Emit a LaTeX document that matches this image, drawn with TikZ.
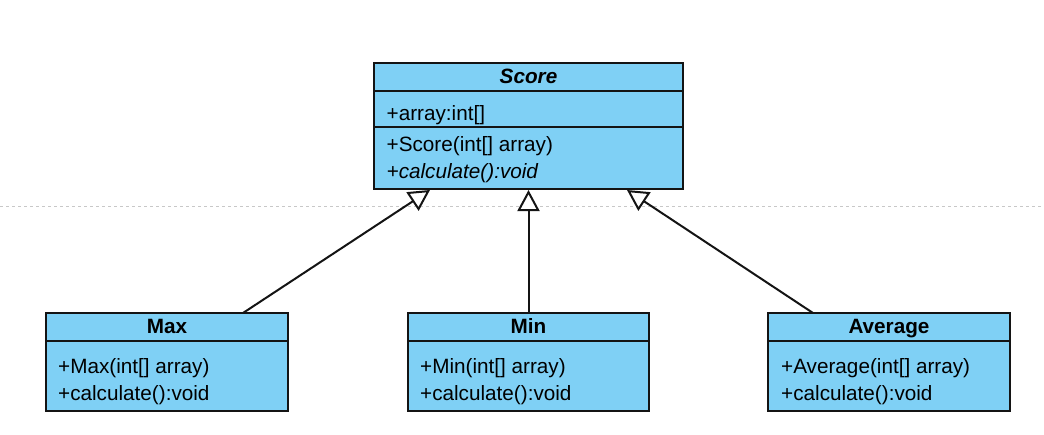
\documentclass[tikz,border=0pt]{standalone}
\usepackage{fontspec}
\setmainfont{Liberation Sans}
\usetikzlibrary{arrows.meta}
\definecolor{umlblue}{RGB}{127,208,245}
\definecolor{linec}{RGB}{20,20,20}
\definecolor{pagebreak}{RGB}{200,200,200}
\newcommand\umlfs{\fontsize{20.7}{24}\selectfont}
\begin{document}
\begin{tikzpicture}[x=1pt,y=-1pt]
\tikzset{
  umlbox/.style={draw=linec, fill=umlblue, line width=2pt, anchor=north west, inner sep=0pt, outer sep=0pt},
  umltxt/.style={anchor=base west, inner sep=0pt, font=\umlfs},
  umltitle/.style={anchor=base, inner sep=0pt, font=\umlfs\bfseries},
  inherit/.style={draw=linec, line width=2pt, -{Triangle[open, fill=white, length=21pt, width=22pt, line width=2pt]}}
}
\useasboundingbox (0,0) rectangle (1044,434);
% page break line
\coordinate (pbL) at (0,206);
\coordinate (pbR) at (1044,206);
\draw[pagebreak, line width=1pt, dash pattern=on 3pt off 3pt] (pbL) -- (pbR);

% Score
\node[umlbox, minimum width=309pt, minimum height=28pt] (scoreH) at (374,63) {};
\node[umlbox, minimum width=309pt, minimum height=36pt] (scoreA) at (374,91) {};
\node[umlbox, minimum width=309pt, minimum height=62pt] (scoreM) at (374,127) {};
\node[umltitle] (scoreT) at (528.5,83.3) {\textbf{\textit{Score}}};
\node[umltxt] (scoreA1) at (386.5,120) {+array:int[]};
\node[umltxt] (scoreM1) at (386.5,151.5) {+Score(int[] array)};
\node[umltxt] (scoreM2) at (386.5,178.5) {\textit{+calculate():void}};

% Max
\node[umlbox, minimum width=242pt, minimum height=28pt] (maxH) at (46,313) {};
\node[umlbox, minimum width=242pt, minimum height=70pt] (maxB) at (46,341) {};
\node[umltitle] (maxT) at (167,333.3) {Max};
\node[umltxt] (maxB1) at (58,373.3) {+Max(int[] array)};
\node[umltxt] (maxB2) at (58,400) {+calculate():void};

% Min
\node[umlbox, minimum width=241pt, minimum height=28pt] (minH) at (408,313) {};
\node[umlbox, minimum width=241pt, minimum height=70pt] (minB) at (408,341) {};
\node[umltitle] (minT) at (528.5,333.3) {Min};
\node[umltxt] (minB1) at (420,373.3) {+Min(int[] array)};
\node[umltxt] (minB2) at (420,400) {+calculate():void};

% Average
\node[umlbox, minimum width=242pt, minimum height=28pt] (avgH) at (768,313) {};
\node[umlbox, minimum width=242pt, minimum height=70pt] (avgB) at (768,341) {};
\node[umltitle] (avgT) at (889,333.3) {Average};
\node[umltxt] (avgB1) at (781,373.3) {+Average(int[] array)};
\node[umltxt] (avgB2) at (781,400) {+calculate():void};

% inheritance
\draw[inherit] ([xshift=197pt]maxH.north west) -- ([xshift=56pt,yshift=-1pt]scoreM.south west);
\draw[inherit] (minH.north) -- ([yshift=-1pt]scoreM.south);
\draw[inherit] ([xshift=45pt]avgH.north west) -- ([xshift=253pt,yshift=-1pt]scoreM.south west);
\end{tikzpicture}
\end{document}
